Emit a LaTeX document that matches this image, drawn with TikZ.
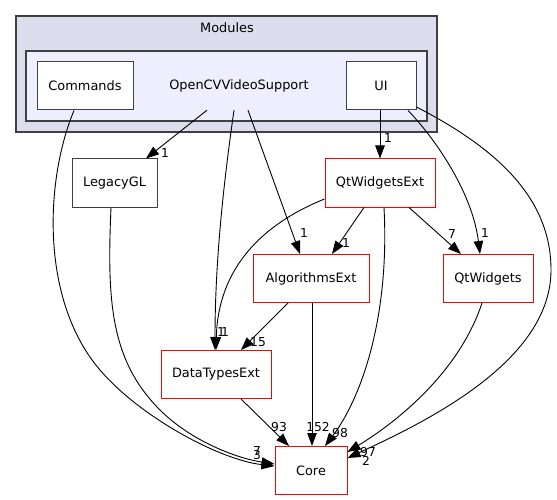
\documentclass[tikz,border=0pt]{standalone}
\usepackage{fontspec}
\setmainfont{DejaVu Sans}
\usetikzlibrary{arrows.meta}
\definecolor{clusterA}{HTML}{DDDDEE}
\definecolor{clusterB}{HTML}{EEEEFF}
\definecolor{framegray}{HTML}{404040}
\begin{document}
\begin{tikzpicture}[x=1pt,y=-1pt,
  font=\fontsize{12.9}{15}\selectfont,
  box/.style={draw=framegray, fill=white, line width=1pt, minimum height=48pt, inner sep=0pt},
  redbox/.style={box, draw=red},
  cluster/.style={draw=framegray, line width=1.3pt},
  dep/.style={-{Triangle[length=13pt,width=9.5pt]}, line width=0.9pt},
  lbl/.style={inner sep=0pt, font=\fontsize{12.3}{14}\selectfont}]
\useasboundingbox (0,0) rectangle (557,500);
\fill[white] (0,0) rectangle (557,500);
% clusters
\draw[cluster, fill=clusterA] (16,16) rectangle (437,132);
\node (modules) at (227,28) {Modules};
\draw[cluster, fill=clusterB] (26,51) rectangle (427,121);
% nodes
\node[box, minimum width=96pt] (commands) at (85,86) {Commands};
\node[minimum width=150pt, minimum height=48pt, inner sep=0pt] (ocv) at (239,86) {OpenCVVideoSupport};
\node[box, minimum width=70pt] (ui) at (381,86) {UI};
\node[box, minimum width=85pt] (legacy) at (114.5,183) {LegacyGL};
\node[redbox, minimum width=110pt] (qwe) at (380,183) {QtWidgetsExt};
\node[redbox, minimum width=116pt] (alg) at (311,278.5) {AlgorithmsExt};
\node[redbox, minimum width=90pt] (qw) at (488,278.5) {QtWidgets};
\node[redbox, minimum width=110pt] (dte) at (216,374.5) {DataTypesExt};
\node[redbox, minimum width=72pt] (core) at (311,470.5) {Core};
% edges
\draw[dep] ([xshift=-32pt]ocv.south) -- ([xshift=31.5pt]legacy.north);
\draw[dep] ([xshift=-5pt]ocv.south) .. controls (224,180) and (215,260) .. ([xshift=-1pt]dte.north);
\draw[dep] ([xshift=9pt]ocv.south) -- ([xshift=-11pt]alg.north);
\draw[dep] ([xshift=-1pt]ui.south) -- (qwe.north);
\draw[dep] ([xshift=27pt]ui.south) .. controls (432,135) and (472,190) .. ([xshift=-8pt]qw.north);
\draw[dep] ([yshift=-21pt]ui.east) .. controls (500,150) and (551,200) .. (551,270)
  .. controls (551,360) and (430,420) .. ([yshift=12.5pt]core.east);
\draw[dep] ([xshift=-11pt]commands.south) .. controls (45,180) and (40,300) .. (100,370)
  .. controls (140,417) and (220,460) .. ([yshift=4.5pt]core.west);
\draw[dep] ([xshift=-3.5pt]legacy.south) .. controls (107,300) and (110,360) .. (160,410)
  .. controls (190,440) and (235,458) .. ([yshift=6.5pt]core.west);
\draw[dep] ([yshift=-16pt]qwe.west) .. controls (260,225) and (218,270) .. (dte.north);
\draw[dep] ([xshift=-16pt]qwe.south) -- ([xshift=21pt]alg.north);
\draw[dep] ([xshift=4pt]qwe.south) .. controls (390,320) and (360,400) .. ([xshift=14pt]core.north);
\draw[dep] ([xshift=29pt]qwe.south) -- ([xshift=-27pt]qw.north);
\draw[dep] ([xshift=-23pt]alg.south) -- ([xshift=25pt]dte.north);
\draw[dep] ([xshift=1pt]alg.south) -- ([xshift=1pt]core.north);
\draw[dep] ([xshift=25pt]dte.south) -- ([xshift=-22pt]core.north);
\draw[dep] ([xshift=-6pt]qw.south) .. controls (460,370) and (400,420) .. ([yshift=18.5pt]core.east);
% labels
\node[lbl] (l1) at (165,153) {1};
\node[lbl] (l2) at (221,332) {1};
\node[lbl] (l3) at (304,233) {1};
\node[lbl] (l4) at (388,138) {1};
\node[lbl] (l5) at (485,233) {1};
\node[lbl] (l6) at (366,461) {2};
\node[lbl] (l7) at (257,455) {3};
\node[lbl] (l8) at (257,451) {7};
\node[lbl] (l9) at (225,332) {1};
\node[lbl] (l10) at (346,243) {1};
\node[lbl] (l11) at (340,433) {98};
\node[lbl] (l12) at (452,234) {7};
\node[lbl] (l13) at (258,342) {15};
\node[lbl] (l14) at (318,427) {152};
\node[lbl] (l15) at (279,427) {93};
\node[lbl] (l16) at (368,452) {97};
\end{tikzpicture}
\end{document}
